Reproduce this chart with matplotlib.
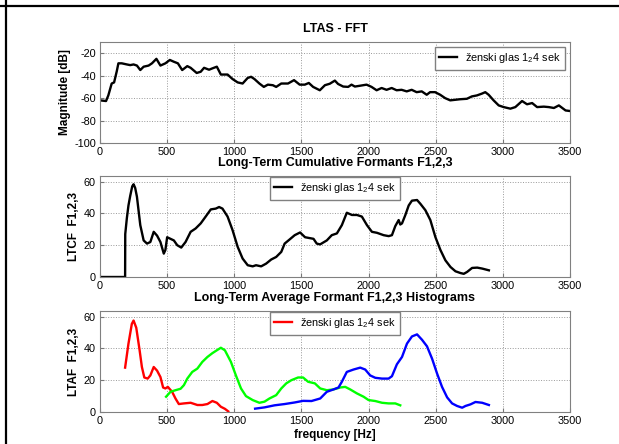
import matplotlib.pyplot as plt
from matplotlib.lines import Line2D

# LTAS spectrum (dB)
ltas_f = [0, 45, 62, 87, 105, 125, 137, 162, 200, 225, 250, 275, 300, 325, 362, 387,
          420, 450, 487, 520, 550, 580, 612, 650, 675, 720, 750, 775, 812, 837, 870,
          900, 950, 987, 1025, 1062, 1100, 1125, 1150, 1187, 1220, 1250, 1287, 1312,
          1350, 1400, 1445, 1487, 1525, 1555, 1587, 1637, 1675, 1711, 1749, 1773,
          1811, 1848, 1873, 1898, 1935, 1985, 2022, 2060, 2097, 2134, 2172, 2209,
          2246, 2284, 2321, 2358, 2396, 2433, 2458, 2495, 2533, 2570, 2608, 2645,
          2682, 2732, 2769, 2807, 2844, 2869, 2894, 2931, 2969, 3006, 3056, 3093,
          3143, 3180, 3218, 3255, 3305, 3342, 3380, 3417, 3467, 3500]
ltas_db = [-62, -62.6, -57.6, -47, -46, -36, -29, -29, -30, -30.6, -30, -31, -35, -32,
           -31, -29, -25, -31, -29, -26, -27.6, -29, -35, -31.5, -33, -37.6, -36.5,
           -33, -34.7, -33.5, -32, -39, -39, -43, -46, -47, -42, -41, -43, -47, -50,
           -48, -48.5, -50, -47, -47, -44, -48, -48, -46.5, -50, -53, -48.5, -47.2,
           -44.4, -47.4, -49.7, -50, -48, -49.7, -49, -48, -50, -53, -51, -52.6, -51,
           -53, -52.6, -54, -52.6, -54.7, -54, -57, -54.7, -54.7, -57, -60, -62,
           -61.5, -61, -60.6, -58.5, -57.6, -56, -54.7, -57, -62, -66.5, -68, -69.4,
           -68, -62.6, -65.5, -64.4, -68, -67.6, -68, -68.8, -66.5, -71, -71.5]

# long-term cumulative formants
ltcf_f = [0, 187, 188, 200, 212, 225, 240, 250, 262, 275, 300, 325, 350, 375, 400,
          425, 450, 475, 487, 500, 525, 550, 575, 605, 637, 675, 712, 750, 787, 825,
          862, 887, 912, 950, 987, 1025, 1062, 1100, 1137, 1162, 1200, 1237, 1275,
          1312, 1350, 1375, 1412, 1450, 1490, 1527, 1590, 1614, 1639, 1689, 1726,
          1764, 1801, 1838, 1876, 1913, 1950, 1988, 2025, 2062, 2112, 2150, 2174,
          2199, 2224, 2236, 2249, 2274, 2299, 2323, 2361, 2386, 2423, 2460, 2498,
          2535, 2572, 2610, 2647, 2684, 2709, 2734, 2771, 2809, 2846, 2896]
ltcf_v = [0, 0, 27, 37, 45, 51, 57, 58.3, 56, 50.5, 32.6, 23, 21, 22, 28.4, 26, 22,
          14.7, 17, 25, 24, 23, 20, 18.5, 22, 28.4, 30.5, 33.7, 38, 42.5, 43, 44, 43,
          38, 29.5, 19, 11.6, 7.4, 6.7, 7.4, 6.7, 8.4, 11, 12.6, 15.8, 21, 23.6,
          26.3, 28, 25, 24, 21, 20.5, 23, 26.3, 27.4, 32.6, 40.4, 39, 39, 38, 32.6,
          28.4, 27.8, 26.3, 25.7, 26.3, 32, 35.8, 33, 33.7, 39, 45, 48, 48.4, 46,
          42, 35.8, 25, 17, 10.5, 6.3, 3.6, 2.5, 2, 3.2, 5.7, 5.9, 5.3, 4.2]

# formant histograms F1 (red), F2 (green), F3 (blue)
f1_f = [187, 212, 237, 250, 270, 295, 312, 330, 355, 375, 400, 425, 450, 470, 487,
        505, 537, 562, 587, 625, 675, 725, 762, 800, 837, 870, 900, 930, 955]
f1_v = [27.9, 43, 55.4, 57.5, 53, 38.8, 28.3, 21.7, 21, 23, 28.3, 26, 22, 15.4,
        14.8, 15.8, 12.7, 8.5, 5, 5.4, 5.8, 4.4, 4.4, 5, 6.9, 5.8, 3.3, 2, 0.4]

f2_f = [492, 525, 562, 600, 625, 650, 687, 725, 762, 800, 837, 870, 900, 930, 975,
        1012, 1050, 1087, 1137, 1187, 1225, 1262, 1312, 1350, 1387, 1425, 1475,
        1512, 1550, 1600, 1640, 1689, 1739, 1789, 1826, 1863, 1913, 1963, 2000,
        2050, 2100, 2149, 2199, 2236]
f2_v = [9.6, 12.7, 13.7, 14.6, 16.9, 21, 25.2, 27.3, 31.5, 34.6, 37, 38.8, 40.4,
        38.8, 31.5, 23, 14.8, 10, 7.5, 5.8, 6.5, 8.5, 10.6, 14.8, 18, 20, 21.7,
        21.7, 19, 18, 14.8, 13.7, 14.2, 15.4, 15.8, 14.2, 11.7, 9.6, 7.5, 6.9, 5.8,
        5.4, 5.4, 4.2]

f3_f = [1155, 1225, 1300, 1375, 1450, 1512, 1575, 1640, 1689, 1739, 1776, 1801,
        1838, 1888, 1938, 1975, 2012, 2050, 2100, 2149, 2174, 2211, 2249, 2286,
        2323, 2361, 2398, 2435, 2473, 2510, 2547, 2585, 2622, 2659, 2697, 2722,
        2759, 2796, 2846, 2896]
f3_v = [2.1, 2.9, 4.2, 5, 6, 7, 6.9, 8.5, 12.7, 14.2, 15.4, 19, 25.2, 26.7, 27.9,
        26.7, 23, 21.5, 21, 21, 22.5, 30, 34.6, 43, 47.5, 48.8, 45.4, 41.3, 33.5,
        24.2, 15.8, 9.2, 5.4, 3.8, 2.7, 3.8, 4.8, 6.3, 5.8, 4.4]

legend_label = 'ženski glas 1$_2$4 sek'
xticks = [0, 500, 1000, 1500, 2000, 2500, 3000, 3500]

plt.rcParams['font.family'] = ['Liberation Sans', 'DejaVu Sans']
plt.rcParams['mathtext.fontset'] = 'custom'
plt.rcParams['mathtext.rm'] = 'Liberation Sans'
plt.rcParams['axes.unicode_minus'] = False

fig = plt.figure(figsize=(6.19, 4.44), dpi=100)

left, width, height = 100 / 619, 470 / 619, 101 / 444
ax1 = fig.add_axes([left, 1 - 143 / 444, width, height])
ax2 = fig.add_axes([left, 1 - 277 / 444, width, height])
ax3 = fig.add_axes([left, 1 - 412 / 444, width, height])

title_kw = dict(fontsize=9, fontweight='bold', pad=7)
label_kw = dict(fontsize=8.5, fontweight='bold')
legend_kw = dict(fontsize=7.8, handlelength=1.6, fancybox=False,
                 edgecolor='#808080', framealpha=1)


def style(ax, ylim, yticks):
    ax.set_xlim(0, 3500)
    ax.set_ylim(*ylim)
    ax.set_xticks(xticks)
    ax.set_yticks(yticks)
    ax.grid(True, linestyle=':', color='#999999', linewidth=0.7)
    ax.tick_params(direction='in', length=3, labelsize=7.8, color='#777777', pad=3)
    for s in ax.spines.values():
        s.set_color('#808080')
        s.set_linewidth(0.8)


style(ax1, (-100, -10), [-100, -80, -60, -40, -20])
ax1.plot(ltas_f, ltas_db, color='black', lw=1.7, label=legend_label)
ax1.set_title('LTAS - FFT', **title_kw)
ax1.set_ylabel('Magnitude [dB]', labelpad=2, **label_kw)
ax1.legend(loc='upper right', borderaxespad=0.45, **legend_kw)

style(ax2, (0, 63.5), [0, 20, 40, 60])
ax2.plot(ltcf_f, ltcf_v, color='black', lw=1.7, label=legend_label)
ax2.set_title('Long-Term Cumulative Formants F1,2,3', **title_kw)
ax2.set_ylabel('LTCF  F1,2,3', labelpad=3, **label_kw)
ax2.legend(loc='upper center', borderaxespad=0.08, **legend_kw)

style(ax3, (0, 63.5), [0, 20, 40, 60])
ax3.plot(f1_f, f1_v, color='#ff0000', lw=1.7, label=legend_label)
ax3.plot(f2_f, f2_v, color='#00ff00', lw=1.7)
ax3.plot(f3_f, f3_v, color='#0000ff', lw=1.7)
ax3.set_title('Long-Term Average Formant F1,2,3 Histograms', **title_kw)
ax3.set_ylabel('LTAF  F1,2,3', labelpad=3, **label_kw)
ax3.set_xlabel('frequency [Hz]', labelpad=2, **label_kw)
ax3.legend(loc='upper center', borderaxespad=0.08, **legend_kw)

# frame lines along the top and left edge
fig.add_artist(Line2D([0, 1], [1 - 6 / 444, 1 - 6 / 444], color='black', lw=1.6))
fig.add_artist(Line2D([6 / 619, 6 / 619], [0, 1], color='black', lw=1.6))

fig.savefig('out.png', dpi=100)
